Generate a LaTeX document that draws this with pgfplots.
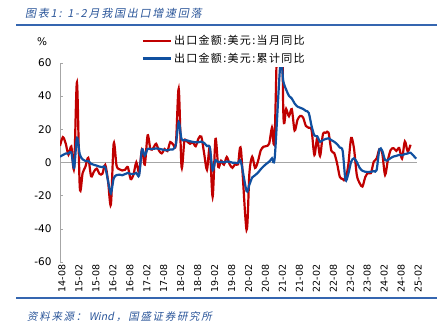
\documentclass[border=0pt]{standalone}
\usepackage{fontspec}
\setmainfont{DejaVu Sans}
\newfontfamily\cjk{Noto Sans CJK SC}[LetterSpace=12]
\newfontfamily\cjkit{Noto Sans CJK SC}[FakeSlant=0.2, LetterSpace=16]
\newfontfamily\latit{Noto Sans CJK SC}[FakeSlant=0.2]
\usepackage{pgfplots}
\pgfplotsset{compat=1.18}
\definecolor{cred}{HTML}{C00000}
\definecolor{cblue}{HTML}{1050A0}
\definecolor{tblue}{HTML}{2A5599}
\definecolor{rulec}{HTML}{3566B0}
\definecolor{axgray}{HTML}{A6A6A6}
\begin{document}
\begin{tikzpicture}
\useasboundingbox (0,0) rectangle (444pt,336pt);
\node[anchor=west, text=tblue, inner sep=0] at (25pt,323pt) {\cjkit\fontsize{11}{13}\selectfont 图表1: 1-2月我国出口增速回落};
\draw[rulec, line width=2pt] (16pt,311pt) -- (437pt,311pt);
\draw[rulec, line width=2pt] (16pt,38pt) -- (437pt,38pt);
\node[anchor=west, text=tblue, inner sep=0] at (27pt,19pt) {\fontsize{10.5}{12}\selectfont\cjkit 资料来源：\latit\ Wind\ \cjkit，国盛证券研究所};
\node[anchor=center, inner sep=0] at (42pt,294pt) {\fontsize{10.5}{12}\selectfont \%};
\begin{axis}[
  at={(60pt,74pt)}, anchor=south west,
  scale only axis, width=357pt, height=199pt,
  xmin=0, xmax=126.3, ymin=-60, ymax=60,
  axis y line*=left, axis x line*=bottom,
  x axis line style={draw=none},
  y axis line style={draw=axgray, line width=0.6pt},
  ytick={-60,-40,-20,0,20,40,60},
  yticklabels={-60,-40,-20,0,20,40,60},
  xtick={0,6,...,126},
  xticklabels={14-08,15-02,15-08,16-02,16-08,17-02,17-08,18-02,18-08,19-02,19-08,20-02,20-08,21-02,21-08,22-02,22-08,23-02,23-08,24-02,24-08,25-02},
  x tick style={draw=none},
  y tick style={draw=axgray, line width=0.6pt},
  tick align=inside, major tick length=3pt,
  yticklabel style={font=\fontsize{10.5}{12}\selectfont, xshift=-5pt},
  xticklabel style={font=\fontsize{9.5}{11}\selectfont, rotate=90, anchor=east, yshift=-2pt, xshift=1pt},
  extra y ticks={0}, extra y tick labels={},
  extra y tick style={grid=major, major grid style={draw=axgray, line width=0.6pt}, tick style={draw=none}},
  legend style={at={(0.225,1.155)}, anchor=north west, draw=none, fill=white,
    font=\cjk\fontsize{11}{13}\selectfont, row sep=3pt, inner sep=1pt},
  legend cell align=left,
  legend image code/.code={\draw[#1, line width=2.5pt] (0pt,0pt) -- (28pt,0pt);},
]
\addplot[cred, line width=2.2pt, smooth] coordinates {
(0,10) (1,15.3) (2,11.6) (3,4.7) (4,9.7) (5,-3.3) (6,48.3) (7,-15.0) (8,-6.4) (9,-2.5)
(10,2.8) (11,-8.3) (12,-5.5) (13,-3.7) (14,-6.9) (15,-6.8) (16,-1.4) (17,-11.2) (18,-25.4) (19,11.5)
(20,-1.8) (21,-4.1) (22,-4.8) (23,-4.4) (24,-2.8) (25,-10.0) (26,-7.3) (27,0.1) (28,-6.1) (29,7.9)
(30,-1.3) (31,16.4) (32,8.0) (33,8.7) (34,11.3) (35,7.2) (36,5.5) (37,8.1) (38,6.9) (39,12.3)
(40,10.9) (41,11.1) (42,44.5) (43,-2.7) (44,12.9) (45,12.6) (46,11.3) (47,12.2) (48,9.8) (49,14.5)
(50,15.6) (51,5.4) (52,-4.4) (53,9.1) (54,-20.7) (55,14.2) (56,-2.7) (57,1.1) (58,-1.3) (59,3.3)
(60,-1.0) (61,-3.2) (62,-0.9) (63,-1.1) (64,7.9) (66,-40.6) (67,-6.6) (68,3.5) (69,-3.3)
(70,0.5) (71,7.2) (72,9.5) (73,9.9) (74,11.4) (75,21.1) (76,18.1) (78,154.9) (79,30.6)
(80,32.3) (81,27.9) (82,32.2) (83,19.3) (84,25.6) (85,28.1) (86,27.1) (87,22.0) (88,20.9) (89,19.5)
(90,4.5) (91,14.7) (92,3.9) (93,16.9) (94,17.9) (95,18.0) (96,7.1) (97,5.7) (98,-0.3) (99,-8.7)
(100,-9.9) (101,-10.5) (102,-1.3) (103,14.8) (104,8.5) (105,-7.5) (106,-12.4) (107,-14.5) (108,-8.8) (109,-6.2)
(110,-6.4) (111,0.5) (112,2.3) (113,8.0) (114,5.6) (115,-7.5) (116,1.5) (117,7.6) (118,8.6) (119,7.0)
(120,8.7) (121,2.4) (122,12.7) (123,6.7) (124,10.7)
};
\addlegendentry{出口金额:美元:当月同比}
\addplot[cblue, line width=2.2pt, smooth] coordinates {
(0,3.5) (1,4.5) (2,5.4) (3,5.5) (4,6.1) (5,-3.3) (6,15.0) (7,4.9) (8,1.9) (9,0.9)
(10,0.9) (11,-0.8) (12,-1.4) (13,-1.9) (14,-2.5) (15,-2.8) (16,-2.8) (17,-11.2) (18,-18.5) (19,-9.6)
(20,-7.6) (21,-7.3) (22,-7.7) (23,-7.0) (24,-6.3) (25,-6.9) (26,-7.0) (27,-6.3) (28,-7.7) (29,7.9)
(30,4.2) (31,8.2) (32,8.1) (33,8.2) (34,8.5) (35,8.3) (36,7.9) (37,7.5) (38,7.4) (39,7.8)
(40,7.9) (41,11.1) (42,24.4) (43,14.1) (44,13.6) (45,13.3) (46,12.8) (47,12.4) (48,12.2) (49,12.2)
(50,12.6) (51,11.8) (52,9.9) (53,9.1) (54,-4.6) (55,1.4) (56,0.2) (57,0.4) (58,0.1) (59,0.6)
(60,0.4) (61,-0.1) (62,-0.2) (63,-0.3) (64,0.5) (66,-17.2) (67,-13.4) (68,-9.0) (69,-7.7)
(70,-6.2) (71,-4.1) (72,-2.3) (73,-0.8) (74,0.5) (75,2.5) (76,3.6) (78,60.6) (79,49.0)
(80,44.0) (81,40.2) (82,38.6) (83,35.6) (84,33.7) (85,33.0) (86,32.3) (87,31.1) (88,29.9) (89,22.0)
(90,16.3) (91,15.8) (92,12.5) (93,13.5) (94,14.2) (95,14.6) (96,13.5) (97,12.5) (98,11.1) (99,9.0)
(100,7.0) (101,-10.5) (102,-6.8) (103,0.5) (104,2.5) (105,0.3) (106,-3.2) (107,-5.0) (108,-5.6) (109,-5.7)
(110,-5.6) (111,-5.2) (112,-4.6) (113,8.0) (114,7.1) (115,1.5) (116,1.5) (117,2.7) (118,3.6) (119,4.0)
(120,4.6) (121,4.3) (122,5.1) (123,5.4) (124,5.9) (126,2.3)
};
\addlegendentry{出口金额:美元:累计同比}
\end{axis}
\end{tikzpicture}
\end{document}
